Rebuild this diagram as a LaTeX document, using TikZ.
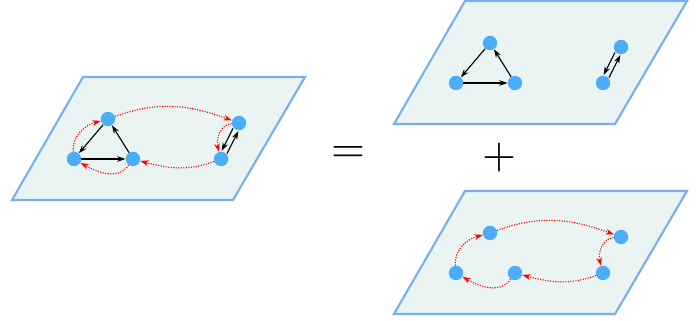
\documentclass[tikz,border=0pt]{standalone}
\usepackage{amsmath}
\usetikzlibrary{arrows.meta}
\definecolor{planeblue}{RGB}{120,175,240}
\definecolor{planefill}{RGB}{234,245,243}
\definecolor{dotblue}{RGB}{75,172,248}

\begin{document}
\begin{tikzpicture}[x=0.025cm, y=0.025cm,
    plane/.style={draw=planeblue, fill=planefill, line width=1.5pt},
    dot/.style={circle, fill=dotblue, inner sep=0pt, minimum size=0.36cm},
    arr/.style={-{Stealth[length=6pt,width=4pt]}, thick},
    hop/.style={-{Stealth[length=6pt,width=4pt]}, red, densely dotted, thick}]
    \useasboundingbox (0,0) rectangle (699,321);

    % left: full graph
    \draw [plane] (12,121) -- (233,121) -- (305,244) -- (83,244) -- cycle;
    \node [dot] (l1) at (108,202) {};
    \node [dot] (l2) at (74,162) {};
    \node [dot] (l3) at (133,162) {};
    \node [dot] (l4) at (239,198) {};
    \node [dot] (l5) at (221,162) {};
    \draw [arr] (l1) -- (l2);
    \draw [arr] (l2) -- (l3);
    \draw [arr] (l3) -- (l1);
    \draw [arr, transform canvas={shift={(-2.7,1.3)}}] (l4) -- (l5);
    \draw [arr, transform canvas={shift={(2.7,-1.3)}}] (l5) -- (l4);
    \draw [hop] (l2) to[out=95, in=195] (l1);
    \draw [hop] (l1) to[out=20, in=160] (l4);
    \draw [hop] (l4) to[out=185, in=105] (l5);
    \draw [hop] (l5) to[out=-160, in=-15] (l3);
    \draw [hop] (l3) to[out=-125, in=-30] (l2);

    \node (eq) at (348,166) {\scalebox{3.1}{$=$}};
    \node (pl) at (499,163) {\scalebox{3.1}{$+$}};

    % top right: black edges only
    \begin{scope}[shift={(382,76)}]
        \draw [plane] (12,121) -- (233,121) -- (305,244) -- (83,244) -- cycle;
        \node [dot] (a1) at (108,202) {};
        \node [dot] (a2) at (74,162) {};
        \node [dot] (a3) at (133,162) {};
        \node [dot] (a4) at (239,198) {};
        \node [dot] (a5) at (221,162) {};
        \draw [arr] (a1) -- (a2);
        \draw [arr] (a2) -- (a3);
        \draw [arr] (a3) -- (a1);
        \draw [arr, transform canvas={shift={(-2.7,1.3)}}] (a4) -- (a5);
        \draw [arr, transform canvas={shift={(2.7,-1.3)}}] (a5) -- (a4);
    \end{scope}

    % bottom right: red hops only
    \begin{scope}[shift={(382,-114)}]
        \draw [plane] (12,121) -- (233,121) -- (305,244) -- (83,244) -- cycle;
        \node [dot] (b1) at (108,202) {};
        \node [dot] (b2) at (74,162) {};
        \node [dot] (b3) at (133,162) {};
        \node [dot] (b4) at (239,198) {};
        \node [dot] (b5) at (221,162) {};
        \draw [hop] (b2) to[out=95, in=195] (b1);
        \draw [hop] (b1) to[out=20, in=160] (b4);
        \draw [hop] (b4) to[out=185, in=105] (b5);
        \draw [hop] (b5) to[out=-160, in=-15] (b3);
        \draw [hop] (b3) to[out=-125, in=-30] (b2);
    \end{scope}
\end{tikzpicture}
\end{document}
